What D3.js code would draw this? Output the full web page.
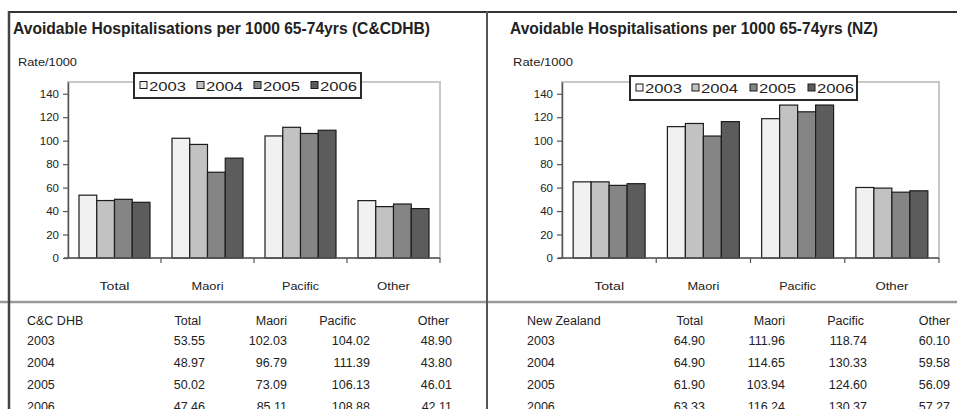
<!DOCTYPE html>
<html>
<head>
<meta charset="utf-8">
<script src="https://cdn.jsdelivr.net/npm/d3@7"></script>
<style>
  body { margin: 0; background: #fff; }
  svg { display: block; }
  text { font-family: "Liberation Sans", Arial, sans-serif; fill: #222; }
</style>
</head>
<body>
<svg id="chart" width="957" height="409"></svg>
<script>
// Avoidable hospitalisation rates per 1000, people aged 65-74
const categories = ["Total", "Maori", "Pacific", "Other"];
const years = ["2003", "2004", "2005", "2006"];
const yTicks = [0, 20, 40, 60, 80, 100, 120, 140];

// Capital & Coast DHB, one array per year (Total, Maori, Pacific, Other)
const ccdhb2003 = [53.55, 102.03, 104.02, 48.90];
const ccdhb2004 = [48.97, 96.79, 111.39, 43.80];
const ccdhb2005 = [50.02, 73.09, 106.13, 46.01];
const ccdhb2006 = [47.46, 85.11, 108.88, 42.11];

// New Zealand, one array per year (Total, Maori, Pacific, Other)
const nz2003 = [64.90, 111.96, 118.74, 60.10];
const nz2004 = [64.90, 114.65, 130.33, 59.58];
const nz2005 = [61.90, 103.94, 124.60, 56.09];
const nz2006 = [63.33, 116.24, 130.37, 57.27];

const yearColors = ["#f1f1f1", "#c2c2c2", "#858585", "#5c5c5c"];
const categoryLabelWidths = [30, 32, 37, 33];

const panels = [
  {
    title: "Avoidable Hospitalisations per 1000 65-74yrs (C&CDHB)",
    titleX: 13, titleW: 417,
    unitX: 18, unitW: 59,
    region: "C&C DHB", regionX: 27,
    rows: [ccdhb2003, ccdhb2004, ccdhb2005, ccdhb2006],
    x0: 68, x1: 440,
    legend: { x: 134, y: 73, w: 227, h: 25, items: [140, 197, 254, 311] },
    headRight: [201, 287, 356, 449],
    colRight: [205, 287, 370, 452]
  },
  {
    title: "Avoidable Hospitalisations per 1000 65-74yrs (NZ)",
    titleX: 510, titleW: 368,
    unitX: 513, unitW: 60,
    region: "New Zealand", regionX: 527,
    rows: [nz2003, nz2004, nz2005, nz2006],
    x0: 562, x1: 939,
    legend: { x: 630, y: 76, w: 227, h: 24, items: [636, 692, 750, 808] },
    headRight: [703, 785, 864, 950],
    colRight: [705, 785, 867, 950]
  }
];

const svg = d3.select("#chart");
const y = d3.scaleLinear().domain([0, 150]).range([258, 82]);

panels.forEach(p => {
  const g = svg.append("g");

  g.append("text")
    .attr("x", p.titleX).attr("y", 34)
    .attr("font-size", 16).attr("font-weight", "bold")
    .attr("textLength", p.titleW).attr("lengthAdjust", "spacingAndGlyphs")
    .text(p.title);

  g.append("text")
    .attr("x", p.unitX).attr("y", 66)
    .attr("font-size", 10.5)
    .attr("textLength", p.unitW).attr("lengthAdjust", "spacingAndGlyphs")
    .text("Rate/1000");

  // plot area frame
  g.append("rect")
    .attr("x", p.x0).attr("y", y(150))
    .attr("width", p.x1 - p.x0).attr("height", y(0) - y(150))
    .attr("fill", "none").attr("stroke", "#c8c8c8").attr("stroke-width", 2);

  const x = d3.scaleBand().domain(categories).range([p.x0, p.x1]);
  const xi = d3.scaleBand().domain(years).range([0, x.bandwidth()])
    .paddingInner(0).paddingOuter(0.62);

  // bars
  years.forEach((yr, yi) => {
    g.append("g").selectAll("rect")
      .data(p.rows[yi])
      .join("rect")
      .attr("x", (d, i) => x(categories[i]) + xi(yr))
      .attr("y", d => y(d))
      .attr("width", xi.bandwidth())
      .attr("height", d => y(0) - y(d))
      .attr("fill", yearColors[yi])
      .attr("stroke", "#1c1c1c").attr("stroke-width", 1.2);
  });

  // value axis
  const ya = g.append("g")
    .attr("transform", `translate(${p.x0},0)`)
    .call(d3.axisLeft(y).tickValues(yTicks).tickSize(5).tickSizeOuter(0).tickPadding(4));
  ya.select(".domain").attr("stroke", "#555").attr("stroke-width", 1.5);
  ya.selectAll(".tick line").attr("stroke", "#555").attr("stroke-width", 1.2);
  ya.selectAll(".tick text").attr("font-size", 11.5).attr("fill", "#222")
    .attr("font-family", "\"Liberation Sans\", Arial, sans-serif");

  // category axis
  g.append("line")
    .attr("x1", p.x0 - 4).attr("x2", p.x1)
    .attr("y1", y(0)).attr("y2", y(0))
    .attr("stroke", "#555").attr("stroke-width", 1.5);
  const bounds = categories.map(c => x(c)).concat([p.x1]);
  g.append("g").selectAll("line")
    .data(bounds.slice(1))
    .join("line")
    .attr("x1", d => d).attr("x2", d => d)
    .attr("y1", y(0)).attr("y2", y(0) + 5)
    .attr("stroke", "#555").attr("stroke-width", 1.2);
  g.append("g").selectAll("text")
    .data(categories)
    .join("text")
    .attr("x", d => x(d) + x.bandwidth() / 2)
    .attr("y", 290)
    .attr("text-anchor", "middle")
    .attr("font-size", 11.5)
    .attr("textLength", (d, i) => categoryLabelWidths[i]).attr("lengthAdjust", "spacingAndGlyphs")
    .text(d => d);

  // legend
  const L = p.legend;
  const lg = g.append("g");
  lg.append("rect")
    .attr("x", L.x).attr("y", L.y).attr("width", L.w).attr("height", L.h)
    .attr("fill", "#fff").attr("stroke", "#2a2a2a").attr("stroke-width", 2);
  years.forEach((yr, yi) => {
    const sx = L.items[yi];
    const cy = L.y + L.h / 2;
    lg.append("rect")
      .attr("x", sx).attr("y", cy - 4).attr("width", 7).attr("height", 7)
      .attr("fill", yearColors[yi]).attr("stroke", "#1c1c1c").attr("stroke-width", 1);
    lg.append("text")
      .attr("x", sx + 9).attr("y", cy + 5)
      .attr("font-size", 13)
      .attr("textLength", 37).attr("lengthAdjust", "spacingAndGlyphs")
      .text(yr);
  });

  // data table
  const tg = g.append("g").attr("font-size", 12.5);
  tg.append("text").attr("x", p.regionX).attr("y", 325).text(p.region);
  categories.forEach((c, ci) => {
    tg.append("text")
      .attr("x", p.headRight[ci]).attr("y", 325)
      .attr("text-anchor", "end").text(c);
  });
  years.forEach((yr, yi) => {
    const by = 345 + yi * 22;
    tg.append("text").attr("x", p.regionX).attr("y", by).text(yr);
    p.rows[yi].forEach((v, ci) => {
      tg.append("text")
        .attr("x", p.colRight[ci]).attr("y", by)
        .attr("text-anchor", "end").text(v.toFixed(2));
    });
  });
});

// frame lines
svg.append("line").attr("x1", 0).attr("x2", 957).attr("y1", 302).attr("y2", 302)
  .attr("stroke", "#9a9a9a").attr("stroke-width", 2.5);
svg.append("line").attr("x1", 8).attr("x2", 957).attr("y1", 12).attr("y2", 12)
  .attr("stroke", "#333").attr("stroke-width", 2);
svg.append("line").attr("x1", 9).attr("x2", 9).attr("y1", 11).attr("y2", 409)
  .attr("stroke", "#444").attr("stroke-width", 2.5);
svg.append("line").attr("x1", 487).attr("x2", 487).attr("y1", 11).attr("y2", 409)
  .attr("stroke", "#555").attr("stroke-width", 2);
</script>
</body>
</html>
